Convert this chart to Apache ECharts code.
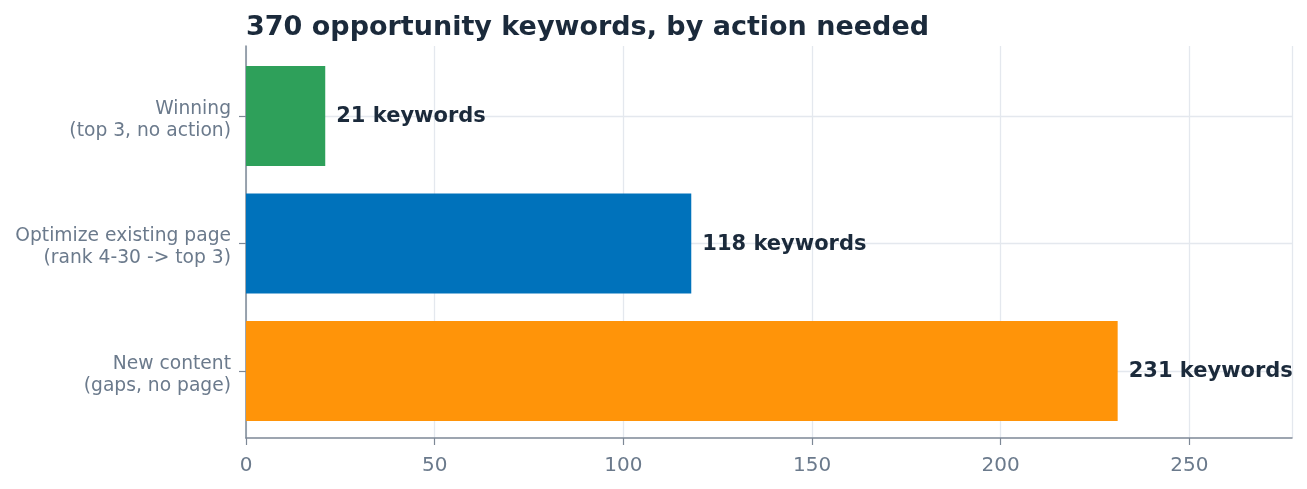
<!DOCTYPE html>
<html>
<head>
<meta charset="utf-8">
<script src="https://cdn.jsdelivr.net/npm/echarts@6/dist/echarts.min.js"></script>
<style>
  html, body { margin: 0; padding: 0; background: #fff; }
  #chart { width: 1307px; height: 489px; }
</style>
</head>
<body>
<div id="chart"></div>
<script>
// data
var categories = ['Winning\n(top 3, no action)', 'Optimize existing page\n(rank 4-30 -> top 3)', 'New content\n(gaps, no page)'];
var counts = [21, 118, 231];
var barColors = ['#2ea05a', '#0072bb', '#ff9409'];
var xTicks = [0, 50, 100, 150, 200, 250];
var xMax = 277.2;

var axisGrey = '#7d8896';
var labelGrey = '#6b7a8c';
var gridGrey = '#e4e8ee';
var ink = '#1b2a3b';
var font = 'DejaVu Sans';

var chart = echarts.init(document.getElementById('chart'));

// grid 0 = outer frame (axis lines, x ticks, vertical grid)
// grid 1 = bars, slightly inset like matplotlib's margins
var option = {
    animation: false,
    title: {
        text: '370 opportunity keywords, by action needed',
        left: 246,
        top: 14,
        padding: 0,
        textStyle: { fontFamily: font, fontSize: 27, fontWeight: 'bold', color: ink }
    },
    grid: [
        { left: 246, right: 15, top: 46, bottom: 51 },
        { left: 246, right: 15, top: 52.25, bottom: 54.25 }
    ],
    xAxis: [{
        type: 'value',
        gridIndex: 0,
        min: 0,
        max: xMax,
        interval: 50,
        axisLine: { show: true, lineStyle: { color: axisGrey, width: 1.5 } },
        axisTick: { show: true, length: 7, lineStyle: { color: axisGrey, width: 1.2 } },
        axisLabel: {
            margin: 18, fontFamily: font, fontSize: 20, color: labelGrey,
            showMaxLabel: false,
            formatter: function (v) { return xTicks.indexOf(v) >= 0 ? String(v) : ''; }
        },
        splitLine: { show: true, lineStyle: { color: gridGrey, width: 1.3 } }
    }, {
        type: 'value',
        gridIndex: 1,
        min: 0,
        max: xMax,
        show: false
    }],
    yAxis: [{
        type: 'value',
        gridIndex: 0,
        axisLine: { show: true, lineStyle: { color: axisGrey, width: 1.5 } },
        axisTick: { show: false },
        axisLabel: { show: false },
        splitLine: { show: false }
    }, {
        type: 'category',
        gridIndex: 1,
        inverse: true,
        data: categories,
        axisLine: { show: false },
        axisTick: { show: true, alignWithLabel: true, length: 7, lineStyle: { color: axisGrey, width: 1.2 } },
        axisLabel: {
            margin: 15, align: 'right',
            // a thin spacer line on top nudges the two text lines down a little
            formatter: function (v) {
                return '{s| }\n' + v.split('\n').map(function (l) { return '{t|' + l + '}'; }).join('\n');
            },
            rich: {
                s: { fontSize: 1, lineHeight: 8 },
                t: { fontFamily: font, fontSize: 18.7, lineHeight: 22, color: labelGrey, align: 'right' }
            }
        },
        splitLine: { show: true, alignWithLabel: true, lineStyle: { color: gridGrey, width: 1.3 } }
    }],
    series: [{
        type: 'bar',
        xAxisIndex: 1,
        yAxisIndex: 1,
        barWidth: 100,
        data: counts.map(function (v, i) {
            return { value: v, itemStyle: { color: barColors[i] } };
        }),
        label: {
            show: true,
            position: 'right',
            distance: 11,
            offset: [0, 1],
            fontFamily: font,
            fontSize: 21,
            fontWeight: 'bold',
            color: ink,
            formatter: function (p) { return p.value + ' keywords'; }
        }
    }]
};

chart.setOption(option);
</script>
</body>
</html>
